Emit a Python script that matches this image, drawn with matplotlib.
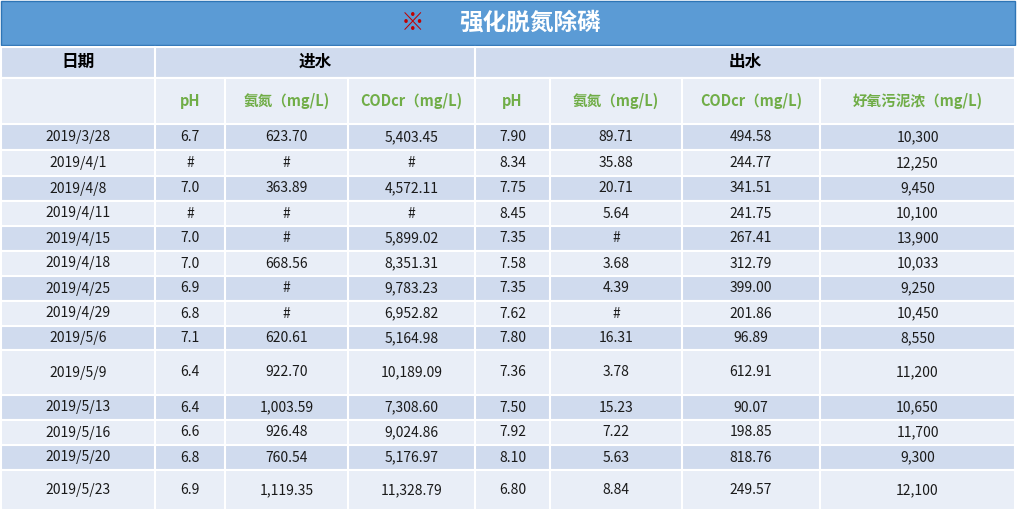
import matplotlib
matplotlib.use("Agg")
import matplotlib.pyplot as plt
from matplotlib.patches import Rectangle

plt.rcParams['font.family'] = ['Noto Sans CJK SC', 'DejaVu Sans']

title = "强化脱氮除磷"
groups = ["日期", "进水", "出水"]
subheaders = ["", "pH", "氨氮（mg/L)", "CODcr（mg/L)", "pH", "氨氮（mg/L)", "CODcr（mg/L)", "好氧污泥浓（mg/L)"]
dates = ["2019/3/28", "2019/4/1", "2019/4/8", "2019/4/11", "2019/4/15", "2019/4/18", "2019/4/25",
         "2019/4/29", "2019/5/6", "2019/5/9", "2019/5/13", "2019/5/16", "2019/5/20", "2019/5/23"]
in_ph = ["6.7", "#", "7.0", "#", "7.0", "7.0", "6.9", "6.8", "7.1", "6.4", "6.4", "6.6", "6.8", "6.9"]
in_nh = ["623.70", "#", "363.89", "#", "#", "668.56", "#", "#", "620.61", "922.70", "1,003.59", "926.48", "760.54", "1,119.35"]
in_cod = ["5,403.45", "#", "4,572.11", "#", "5,899.02", "8,351.31", "9,783.23", "6,952.82", "5,164.98",
          "10,189.09", "7,308.60", "9,024.86", "5,176.97", "11,328.79"]
out_ph = ["7.90", "8.34", "7.75", "8.45", "7.35", "7.58", "7.35", "7.62", "7.80", "7.36", "7.50", "7.92", "8.10", "6.80"]
out_nh = ["89.71", "35.88", "20.71", "5.64", "#", "3.68", "4.39", "#", "16.31", "3.78", "15.23", "7.22", "5.63", "8.84"]
out_cod = ["494.58", "244.77", "341.51", "241.75", "267.41", "312.79", "399.00", "201.86", "96.89",
           "612.91", "90.07", "198.85", "818.76", "249.57"]
sludge = ["10,300", "12,250", "9,450", "10,100", "13,900", "10,033", "9,250", "10,450", "8,550",
          "11,200", "10,650", "11,700", "9,300", "12,100"]

W, H = 1017, 513
fig = plt.figure(figsize=(W / 100, H / 100), dpi=100)
ax = fig.add_axes([0, 0, 1, 1])
ax.set_xlim(0, W); ax.set_ylim(H, 0); ax.axis('off')

cols = [1, 155, 225, 348, 475, 550, 682, 820, 1015]
rows = [124, 150, 176, 201, 226, 251, 276, 301, 326, 350, 395, 420, 445, 470, 510]
white = "white"
dark = "#D0DBEE"; light = "#E9EEF7"
green = "#70AD47"

# title bar
ax.add_patch(Rectangle((1, 1), 1014, 44, facecolor="#5B9BD5", edgecolor="#2E75B6", lw=1))
ax.text(413, 23, "※", color="#C00000", fontsize=17, ha="center", va="center", fontweight="bold")
ax.text(530, 23, title, color="white", fontsize=17, ha="center", va="center", fontweight="bold")

# header rows
ax.add_patch(Rectangle((1, 47), 1014, 31, facecolor=dark, edgecolor=white, lw=1.5))
ax.add_patch(Rectangle((1, 78), 1014, 46, facecolor=light, edgecolor=white, lw=1.5))
for x in [155, 475]:
    ax.plot([x, x], [47, 124], color=white, lw=1.5)
for x in cols[1:-1]:
    ax.plot([x, x], [78, 124], color=white, lw=1.5)
ax.plot([1, 1015], [78, 78], color=white, lw=1.5)
for g, (a, b) in zip(groups, [(1, 155), (155, 475), (475, 1015)]):
    ax.text((a + b) / 2, 62, g, fontsize=12, fontweight="bold", ha="center", va="center", color="black")
for i, s in enumerate(subheaders):
    ax.text((cols[i] + cols[i + 1]) / 2, 101, s, fontsize=10.5, fontweight="bold",
            ha="center", va="center", color=green)

table = [dates, in_ph, in_nh, in_cod, out_ph, out_nh, out_cod, sludge]
for r in range(len(dates)):
    y0, y1 = rows[r], rows[r + 1]
    ax.add_patch(Rectangle((1, y0), 1014, y1 - y0, facecolor=dark if r % 2 == 0 else light,
                           edgecolor=white, lw=1.5))
    for c, colvals in enumerate(table):
        ax.text((cols[c] + cols[c + 1]) / 2, (y0 + y1) / 2, colvals[r], fontsize=10,
                ha="center", va="center", color="#1a1a1a")
for x in cols[1:-1]:
    ax.plot([x, x], [124, 510], color=white, lw=1.5)

fig.savefig("out.png", dpi=100, facecolor="white")
